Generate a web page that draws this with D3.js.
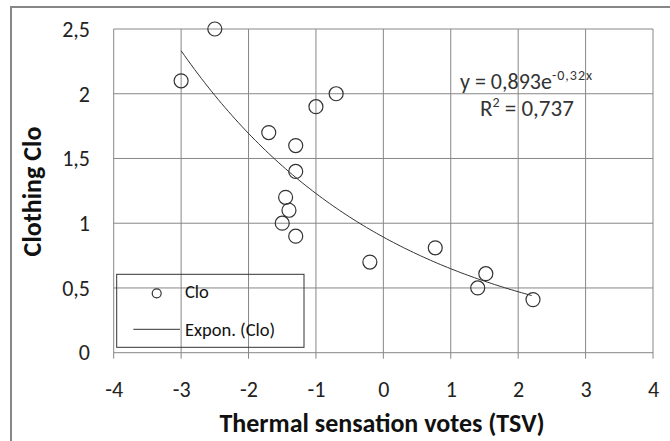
<!DOCTYPE html>
<html>
<head>
<meta charset="utf-8">
<script src="https://cdn.jsdelivr.net/npm/d3@7/dist/d3.min.js"></script>
<style>
  html, body { margin: 0; padding: 0; background: #fff; }
  svg { display: block; font-family: Carlito, Calibri, Lato, "Open Sans", sans-serif; }
</style>
</head>
<body>
<svg id="chart" width="670" height="441"></svg>
<script>
// Thermal sensation votes vs. clothing insulation
const tsv = [-3, -2.5, -1.7, -1.3, -1.3, -1.0, -0.7, -1.45, -1.4, -1.5, -1.3, -0.2, 0.77, 1.52, 1.4, 2.22];
const clo = [2.1, 2.5, 1.7, 1.6, 1.4, 1.9, 2.0, 1.2, 1.1, 1.0, 0.9, 0.7, 0.81, 0.61, 0.5, 0.41];

// Exponential trend line y = a * e^(b x)
const trendA = 0.893;
const trendB = -0.32;
const rSquared = 0.737;

const xTicks = [-4, -3, -2, -1, 0, 1, 2, 3, 4];
const yTicks = [0, 0.5, 1, 1.5, 2, 2.5];

const seriesName = "Clo";
const trendName = "Expon. (Clo)";
const xTitle = "Thermal sensation votes (TSV)";
const yTitle = "Clothing Clo";

const svg = d3.select("#chart");
const gridColor = "#878787";
const font = "Carlito, Calibri, Lato, sans-serif";
const fmt = v => String(v).replace(".", ",");

const x = d3.scaleLinear().domain([-4, 4]).range([113.7, 653]);
const y = d3.scaleLinear().domain([0, 2.5]).range([352.7, 29]);

// outer chart frame
svg.append("rect")
  .attr("x", 11).attr("y", 7).attr("width", 700).attr("height", 500)
  .attr("fill", "none").attr("stroke", gridColor).attr("stroke-width", 2);

// gridlines (vertical ones run past the bottom edge as tick marks)
svg.append("g").selectAll("line").data(xTicks).join("line")
  .attr("x1", d => x(d)).attr("x2", d => x(d))
  .attr("y1", y(2.5)).attr("y2", y(0) + 6)
  .attr("stroke", gridColor).attr("stroke-width", 1);
svg.append("g").selectAll("line").data(yTicks).join("line")
  .attr("x1", x(-4)).attr("x2", x(4))
  .attr("y1", d => y(d)).attr("y2", d => y(d))
  .attr("stroke", gridColor).attr("stroke-width", 1);

// axes (labels only, the grid forms the frame)
const xAxis = svg.append("g")
  .attr("transform", `translate(0,${y(0)})`)
  .call(d3.axisBottom(x).tickValues(xTicks).tickFormat(fmt).tickSize(0));
xAxis.select(".domain").remove();
xAxis.selectAll("text").attr("y", 44.5).attr("dy", 0).attr("font-size", 22)
  .attr("fill", "#222").attr("font-family", font);

const yAxis = svg.append("g")
  .attr("transform", `translate(${x(-4)},0)`)
  .call(d3.axisLeft(y).tickValues(yTicks).tickFormat(fmt).tickSize(0));
yAxis.select(".domain").remove();
yAxis.selectAll("text").attr("x", -23.7).attr("dy", "0.33em").attr("font-size", 22)
  .attr("fill", "#222").attr("font-family", font);

// axis titles
svg.append("text")
  .attr("x", 382).attr("y", 432)
  .attr("text-anchor", "middle").attr("font-size", 26).attr("font-weight", "bold")
  .attr("fill", "#111").text(xTitle);
svg.append("text")
  .attr("transform", "translate(41,191.5) rotate(-90)")
  .attr("text-anchor", "middle").attr("font-size", 26).attr("font-weight", "bold")
  .attr("fill", "#111").text(yTitle);

// trend curve over the range of the data
const xs = d3.range(d3.min(tsv), d3.max(tsv) + 1e-9, 0.05);
const line = d3.line().x(d => x(d)).y(d => y(trendA * Math.exp(trendB * d)));
svg.append("path").datum(xs)
  .attr("d", line).attr("fill", "none").attr("stroke", "#333").attr("stroke-width", 1);

// data points
svg.append("g").selectAll("circle").data(tsv.map((t, i) => [t, clo[i]])).join("circle")
  .attr("cx", d => x(d[0])).attr("cy", d => y(d[1])).attr("r", 7)
  .attr("fill", "none").attr("stroke", "#333").attr("stroke-width", 1.2);

// equation label
const eq = svg.append("text").attr("x", 460).attr("y", 89)
  .attr("font-size", 22).attr("fill", "#333");
eq.append("tspan").text(`y = ${fmt(trendA)}e`);
eq.append("tspan").attr("dy", -9).attr("font-size", 14).attr("letter-spacing", 1).text(`${fmt(trendB)}x`);
const r2 = svg.append("text").attr("x", 480).attr("y", 116)
  .attr("font-size", 23).attr("fill", "#333");
r2.append("tspan").text("R");
r2.append("tspan").attr("dy", -9).attr("font-size", 14).text("2");
r2.append("tspan").attr("dy", 9).text(` = ${fmt(rSquared)}`);

// legend
const lg = svg.append("g");
lg.append("rect").attr("x", 116.7).attr("y", 274.3).attr("width", 187.3).attr("height", 73)
  .attr("fill", "none").attr("stroke", "#333").attr("stroke-width", 1);
lg.append("circle").attr("cx", 156.7).attr("cy", 293.3).attr("r", 4.5)
  .attr("fill", "none").attr("stroke", "#333").attr("stroke-width", 1.2);
lg.append("line").attr("x1", 133.3).attr("x2", 180).attr("y1", 329.3).attr("y2", 329.3)
  .attr("stroke", "#333").attr("stroke-width", 1);
lg.append("text").attr("x", 185).attr("y", 298).attr("font-size", 18.5)
  .attr("fill", "#111").text(seriesName);
lg.append("text").attr("x", 185).attr("y", 336).attr("font-size", 18.5)
  .attr("fill", "#111").text(trendName);
</script>
</body>
</html>
